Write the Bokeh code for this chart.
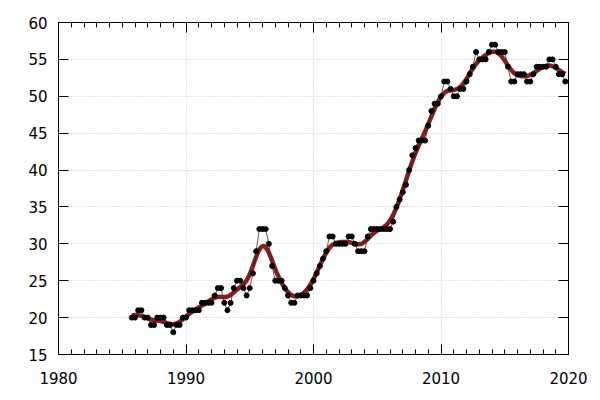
import numpy as np
from bokeh.plotting import figure
from bokeh.models import (SingleIntervalTicker, LinearAxis, Range1d, ColumnDataSource,
                          Grid, CustomJSTickFormatter)
from bokeh.embed import file_html
from bokeh.resources import INLINE

# Quarterly observations, first one at 1985.75
start_year = 1985.75
step = 0.25
values = [
    20,
    20, 21, 21, 20,   # 1986
    20, 19, 19, 20,   # 1987
    20, 20, 19, 19,   # 1988
    18, 19, 19, 20,   # 1989
    20, 21, 21, 21,   # 1990
    21, 22, 22, 22,   # 1991
    22, 23, 24, 24,   # 1992
    22, 21, 22, 24,   # 1993
    25, 25, 24, 23,   # 1994
    24, 26, 29, 32,   # 1995
    32, 32, 30, 27,   # 1996
    25, 25, 25, 24,   # 1997
    23, 22, 22, 23,   # 1998
    23, 23, 23, 24,   # 1999
    25, 26, 27, 28,   # 2000
    29, 31, 31, 30,   # 2001
    30, 30, 30, 31,   # 2002
    31, 30, 29, 29,   # 2003
    29, 31, 32, 32,   # 2004
    32, 32, 32, 32,   # 2005
    32, 33, 35, 36,   # 2006
    37, 38, 40, 42,   # 2007
    43, 44, 44, 44,   # 2008
    46, 48, 49, 49,   # 2009
    50, 52, 52, 51,   # 2010
    50, 50, 51, 51,   # 2011
    52, 53, 54, 56,   # 2012
    55, 55, 55, 56,   # 2013
    57, 57, 56, 56,   # 2014
    56, 54, 52, 52,   # 2015
    53, 53, 53, 52,   # 2016
    52, 53, 54, 54,   # 2017
    54, 54, 55, 55,   # 2018
    54, 53, 53, 52,   # 2019
]
x_range_years = [1980, 2020]
y_range_vals = [15, 60]

t = start_year + step * np.arange(len(values))
v = np.array(values, dtype=float)

# Gaussian kernel smoother computed from the observations
bw = 0.57
tg = np.linspace(t[0], t[-1], 600)
w = np.exp(-0.5 * ((tg[:, None] - t[None, :]) / bw) ** 2)
smooth = (w @ v) / w.sum(axis=1)

p = figure(width=600, height=400,
           x_range=Range1d(*x_range_years), y_range=Range1d(*y_range_vals),
           output_backend="svg", toolbar_location=None,
           min_border_left=58, min_border_right=32,
           min_border_top=22, min_border_bottom=46,
           x_axis_type=None, y_axis_type=None)
p.outline_line_color = "black"
p.outline_line_width = 1
p.background_fill_color = "white"
p.border_fill_color = "white"

FONT = "DejaVu Sans"

def make_axis(kind, labels=True):
    ax = LinearAxis()
    if kind == "x":
        ax.ticker = SingleIntervalTicker(interval=10, num_minor_ticks=10)
    else:
        ax.ticker = SingleIntervalTicker(interval=5, num_minor_ticks=0)
    ax.major_tick_in = 10
    ax.major_tick_out = 0
    ax.minor_tick_in = 5
    ax.minor_tick_out = 0
    ax.axis_line_color = "black"
    ax.major_tick_line_color = "black"
    ax.minor_tick_line_color = "black"
    ax.major_label_text_font = FONT
    ax.major_label_text_color = "black"
    ax.major_label_text_font_size = "15px"
    if labels:
        ax.major_label_standoff = 17 if kind == "x" else 11
    else:
        ax.formatter = CustomJSTickFormatter(code="return '';")
        ax.major_label_standoff = 0
    return ax

p.add_layout(make_axis("x"), "below")
p.add_layout(make_axis("y"), "left")
p.add_layout(make_axis("x", labels=False), "above")
p.add_layout(make_axis("y", labels=False), "right")

xg = Grid(dimension=0, ticker=SingleIntervalTicker(interval=10))
yg = Grid(dimension=1, ticker=SingleIntervalTicker(interval=5))
for g in (xg, yg):
    g.grid_line_color = "#c8c8c8"
    g.grid_line_dash = "1 2"
    g.grid_line_width = 1
    p.add_layout(g, "center")

src = ColumnDataSource(data=dict(t=t, v=v))
p.line(tg, smooth, line_color="#8b1a1a", line_width=4.5)
p.line("t", "v", source=src, line_color="#333333", line_width=0.8)
p.scatter("t", "v", source=src, size=5, fill_color="black", line_color="black")

open("out.html", "w").write(file_html(p, INLINE))
